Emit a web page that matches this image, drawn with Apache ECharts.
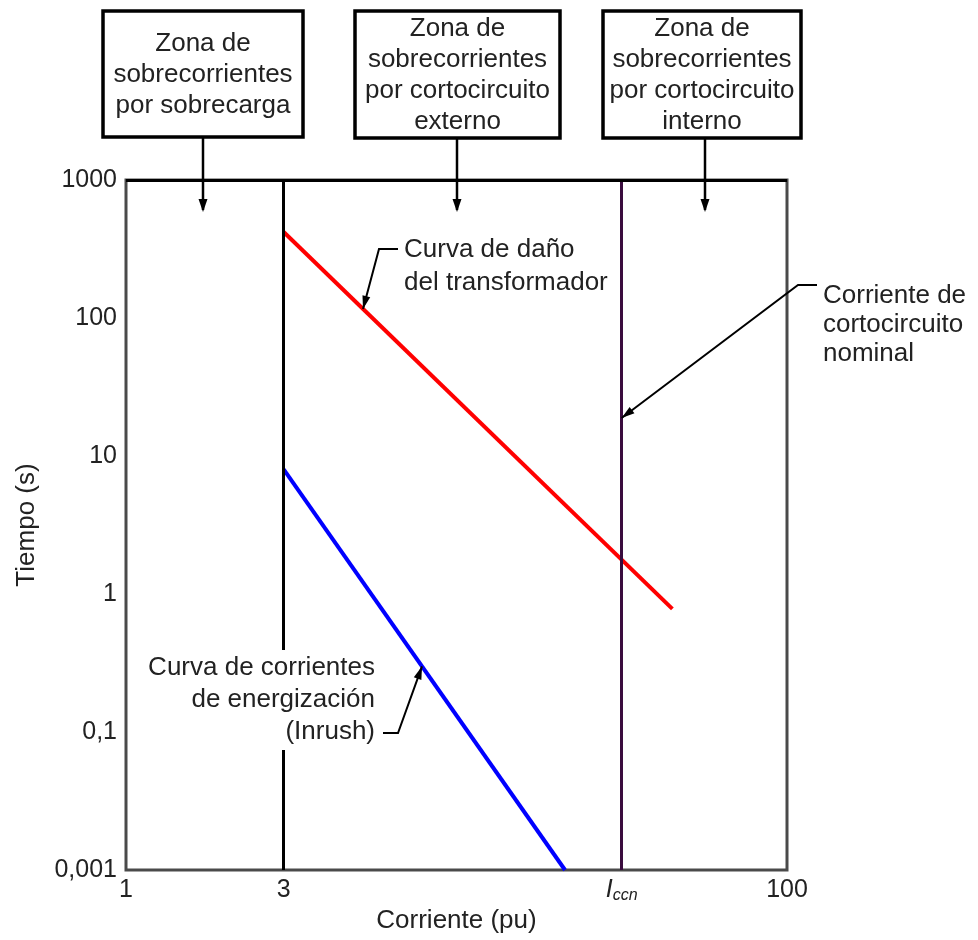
<!DOCTYPE html>
<html><head><meta charset="utf-8">
<script src="https://cdn.jsdelivr.net/npm/echarts@6/dist/echarts.min.js"></script>
<style>html,body{margin:0;padding:0;background:#fff}#c{width:978px;height:940px}</style>
</head><body><div id="c"></div>
<script>
// ---- data ----
const xAxisLabelValues = [1, 100];
const xAxisLabelTexts = ['1', '100'];
const verticalLineValues = [3, 31.6];          // 3 pu and Iccn
const verticalLineTexts = ['3', '{i|I}{s|ccn}'];
const yTickValues = [0.01, 0.1, 1, 10, 100, 1000];
const yTickLabels = ['0,001', '0,1', '1', '10', '100', '1000'];
const damageCurve = [[3, 420], [45, 0.78]];     // Curva de daño del transformador
const inrushCurve = [[3, 8], [21.3, 0.01]];     // Curva de corrientes de energización
const zoneTexts = [
  'Zona de\nsobrecorrientes\npor sobrecarga',
  'Zona de\nsobrecorrientes\npor cortocircuito\nexterno',
  'Zona de\nsobrecorrientes\npor cortocircuito\ninterno'
];

const FONT = "'Liberation Sans', Arial, sans-serif";
const TXT = '#222';
const chart = echarts.init(document.getElementById('c'), null, {renderer: 'canvas'});

function matchIdx(vals, v) {
  for (let i = 0; i < vals.length; i++) {
    if (Math.abs(Math.log10(vals[i]) - Math.log10(v)) < 1e-6) return i;
  }
  return -1;
}

const option = {
  animation: false,
  backgroundColor: '#fff',
  grid: {left: 126, right: 191, top: 180, bottom: 70, show: true, borderColor: '#4a4a4a', borderWidth: 3, containLabel: false},
  xAxis: {
    type: 'log', logBase: 10, min: 1, max: 100,
    name: 'Corriente (pu)', nameLocation: 'middle', nameGap: 32,
    nameTextStyle: {fontFamily: FONT, fontSize: 26, color: TXT},
    axisLine: {show: false}, axisTick: {show: false}, splitLine: {show: false},
    axisLabel: {
      margin: 8, fontFamily: FONT, fontSize: 25, color: TXT,
      formatter: v => { const i = matchIdx(xAxisLabelValues, v); return i >= 0 ? xAxisLabelTexts[i] : ''; }
    }
  },
  yAxis: {
    type: 'log', logBase: 10, min: 0.01, max: 1000,
    name: 'Tiempo (s)', nameLocation: 'middle', nameGap: 86, nameRotate: 90,
    nameTextStyle: {fontFamily: FONT, fontSize: 26, color: TXT},
    axisLine: {show: false}, axisTick: {show: false}, splitLine: {show: false},
    axisLabel: {
      margin: 9, fontFamily: FONT, fontSize: 25, color: TXT,
      formatter: v => { const i = matchIdx(yTickValues, v); return i >= 0 ? yTickLabels[i] : ''; }
    }
  },
  series: [
    {
      type: 'line', name: 'Curva de daño', data: damageCurve, symbol: 'none', clip: false,
      lineStyle: {color: '#ff0000', width: 4},
      markLine: {
        silent: true, symbol: 'none', animation: false,
        data: [
          {xAxis: verticalLineValues[0], lineStyle: {color: '#000', width: 3, type: 'solid'},
           label: {show: true, position: 'start', distance: 8, formatter: verticalLineTexts[0], fontFamily: FONT, fontSize: 25, color: TXT}},
          {xAxis: verticalLineValues[1], lineStyle: {color: '#3a0c3e', width: 3, type: 'solid'},
           label: {show: true, position: 'start', distance: 6, formatter: verticalLineTexts[1], color: TXT,
             rich: {i: {fontFamily: FONT, fontSize: 25, fontStyle: 'italic', color: TXT},
                    s: {fontFamily: FONT, fontSize: 16, fontStyle: 'italic', color: TXT, padding: [12, 0, 0, 0]}}}},
          {yAxis: 1000, lineStyle: {color: '#000', width: 3, type: 'solid'}, label: {show: false}}
        ]
      }
    },
    {
      type: 'line', name: 'Inrush', data: inrushCurve, symbol: 'none', clip: false,
      lineStyle: {color: '#0000ff', width: 4}
    }
  ]
};
chart.setOption(option);

// ---- annotations ----
function px(p) { return chart.convertToPixel({gridIndex: 0}, p); }
function onSegment(seg, x) {
  const a = px(seg[0]), b = px(seg[1]);
  const t = (x - a[0]) / (b[0] - a[0]);
  return [x, a[1] + t * (b[1] - a[1])];
}
function arrowHead(x1, y1, x2, y2, len, w) {
  const dx = x2 - x1, dy = y2 - y1, d = Math.hypot(dx, dy);
  const ux = dx / d, uy = dy / d;
  const bx = x2 - ux * len, by = y2 - uy * len;
  return {type: 'polygon', shape: {points: [[x2, y2], [bx - uy * w, by + ux * w], [bx + uy * w, by - ux * w]]}, style: {fill: '#000'}, z: 100};
}
const g = [];
function addText(text, x, y, align, lh, extra) {
  g.push({type: 'text', z: 100, style: Object.assign({text: text, x: x, y: y, fill: TXT, fontFamily: FONT, fontSize: 26, textAlign: align, textVerticalAlign: 'middle', lineHeight: lh}, extra || {})});
}

// zone boxes
const boxes = [[103, 11, 200, 126, 203], [355, 11, 205, 127, 457], [603, 11, 198, 127, 705]];
const gridTop = px([1, 1000])[1];
boxes.forEach((b, i) => {
  g.push({type: 'line', z: 90, shape: {x1: b[4], y1: b[1] + b[3], x2: b[4], y2: gridTop + 30}, style: {stroke: '#000', lineWidth: 2.5}});
  g.push(arrowHead(b[4], b[1] + b[3], b[4], gridTop + 32, 13, 4.5));
  g.push({type: 'rect', z: 95, shape: {x: b[0], y: b[1], width: b[2], height: b[3]}, style: {fill: '#fff', stroke: '#000', lineWidth: 3.5}});
  addText(zoneTexts[i], b[0] + b[2] / 2, b[1] + b[3] / 2 + 1, 'center', 31);
});

// damage curve leader
const rTip = onSegment(damageCurve, 363);
g.push({type: 'polyline', z: 100, shape: {points: [[398, 249], [379, 249], [rTip[0], rTip[1]]]}, style: {stroke: '#000', lineWidth: 2, fill: null}});
g.push(arrowHead(379, 249, rTip[0], rTip[1], 13, 4));
addText('Curva de daño\ndel transformador', 404, 266, 'left', 33);

// inrush leader
const bTip = onSegment(inrushCurve, 422);
addText('Curva de corrientes\nde energización\n(Inrush)', 375, 700, 'right', 32, {backgroundColor: '#fff', padding: [2, 0, 2, 4]});
g.push({type: 'polyline', z: 100, shape: {points: [[383, 733], [398, 733], [bTip[0], bTip[1]]]}, style: {stroke: '#000', lineWidth: 2, fill: null}});
g.push(arrowHead(398, 733, bTip[0], bTip[1], 13, 4));

// Iccn leader
const iTipX = px([verticalLineValues[1], 1])[0];
g.push({type: 'polyline', z: 100, shape: {points: [[817, 285], [798, 285], [iTipX, 418]]}, style: {stroke: '#000', lineWidth: 2, fill: null}});
g.push(arrowHead(798, 285, iTipX, 418, 13, 4));
addText('Corriente de\ncortocircuito\nnominal', 823, 325, 'left', 29);

chart.setOption({graphic: g});
</script></body></html>
